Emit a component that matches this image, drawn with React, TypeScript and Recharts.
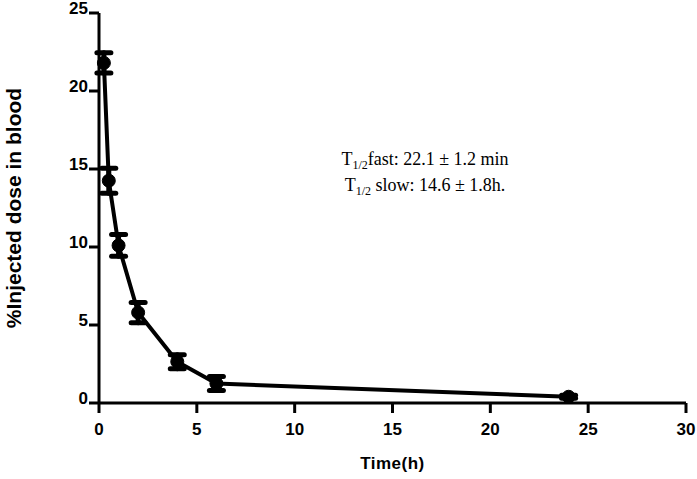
import {
  LineChart,
  Line,
  XAxis,
  YAxis,
  ErrorBar,
} from 'recharts';

// time after injection (h) and % injected dose in blood, mean ± error
const hours = [0.25, 0.5, 1, 2, 4, 6, 24];
const dose = [21.8, 14.25, 10.1, 5.8, 2.65, 1.25, 0.4];
const doseErr = [0.65, 0.8, 0.7, 0.65, 0.45, 0.45, 0.1];

const xTicks = [0, 5, 10, 15, 20, 25, 30];
const yTicks = [0, 5, 10, 15, 20, 25];

const data = hours.map((t, i) => ({ t, dose: dose[i], err: doseErr[i] }));

const axisFont = 'Liberation Sans, Arial, Helvetica, sans-serif';

function YTick(props: any) {
  const { x, y, payload } = props;
  return (
    <text
      x={x}
      y={y - 5}
      dy="0.36em"
      textAnchor="end"
      fontFamily={axisFont}
      fontWeight="bold"
      fontSize={17}
      fill="#000"
    >
      {payload.value}
    </text>
  );
}

function XTick(props: any) {
  const { x, y, payload } = props;
  return (
    <text
      x={x}
      y={y}
      dy="0.71em"
      textAnchor="middle"
      fontFamily={axisFont}
      fontWeight="bold"
      fontSize={17}
      fill="#000"
    >
      {payload.value}
    </text>
  );
}

export default function App() {
  return (
    <div style={{ position: 'absolute', left: 0, top: 0, width: 697, height: 479, background: '#fff' }}>
      <LineChart
        width={697}
        height={479}
        data={data}
        margin={{ top: 13, right: 11, bottom: 0, left: 0 }}
      >
        <XAxis
          dataKey="t"
          type="number"
          domain={[0, 30]}
          ticks={xTicks}
          height={76}
          tickSize={10}
          tickMargin={10}
          axisLine={{ stroke: '#000', strokeWidth: 3 }}
          tickLine={{ stroke: '#000', strokeWidth: 3 }}
          tick={<XTick />}
          label={{
            value: 'Time(h)',
            position: 'insideBottom',
            offset: 10,
            fill: '#000',
            style: { fontFamily: axisFont, fontWeight: 'bold', fontSize: 17, letterSpacing: 0.5 },
          }}
        />
        <YAxis
          type="number"
          domain={[0, 25]}
          ticks={yTicks}
          width={99}
          tickSize={10}
          tickMargin={1}
          axisLine={{ stroke: '#000', strokeWidth: 3 }}
          tickLine={{ stroke: '#000', strokeWidth: 3 }}
          tick={<YTick />}
          label={{
            value: '%Injected dose in blood',
            angle: -90,
            position: 'insideLeft',
            offset: 14,
            fill: '#000',
            style: { textAnchor: 'middle', fontFamily: axisFont, fontWeight: 'bold', fontSize: 21 },
          }}
        />
        <Line
          type="linear"
          dataKey="dose"
          stroke="#000"
          strokeWidth={4}
          strokeLinejoin="round"
          dot={{ r: 6.5, fill: '#000', stroke: '#000', strokeWidth: 1 }}
          isAnimationActive={false}
        >
          <ErrorBar
            dataKey="err"
            direction="y"
            width={7}
            stroke="#000"
            strokeWidth={5}
            strokeLinecap="round"
            isAnimationActive={false}
          />
        </Line>
      </LineChart>
      <div
        style={{
          position: 'absolute',
          left: 325,
          top: 149,
          width: 200,
          textAlign: 'center',
          fontFamily: 'Liberation Serif, Times New Roman, serif',
          fontSize: 18,
          lineHeight: '20px',
          color: '#000',
          whiteSpace: 'nowrap',
        }}
      >
        <div>
          T<span style={{ fontSize: 12, verticalAlign: '-4px' }}>1/2</span>fast: 22.1 ± 1.2 min
        </div>
        <div>
          T<span style={{ fontSize: 12, verticalAlign: '-4px' }}>1/2</span> slow: 14.6 ± 1.8h.
        </div>
      </div>
    </div>
  );
}
